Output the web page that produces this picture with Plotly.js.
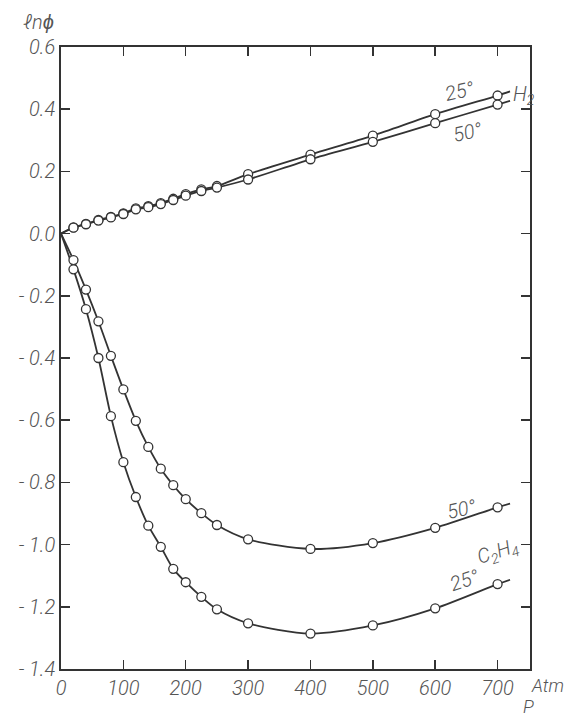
<!DOCTYPE html>
<html>
<head>
<meta charset="utf-8">
<script src="https://cdn.plot.ly/plotly-3.0.1.min.js"></script>
<style>html,body{margin:0;padding:0;background:#fff;}#chart{width:565px;height:719px;}</style>
</head>
<body>
<div id="chart"></div>
<script>
// ---- data ----
var pH2 = [20, 40, 60, 80, 100, 120, 140, 160, 180, 200, 225, 250, 300, 400, 500, 600, 700];
var h2_25 = [0.020, 0.031, 0.044, 0.054, 0.065, 0.081, 0.088, 0.098, 0.112, 0.127, 0.142, 0.153, 0.191, 0.254, 0.315, 0.384, 0.444];
var h2_50 = [0.019, 0.030, 0.042, 0.052, 0.063, 0.078, 0.085, 0.095, 0.108, 0.122, 0.137, 0.148, 0.174, 0.239, 0.295, 0.355, 0.415];

var pC2H4 = [20, 40, 60, 80, 100, 120, 140, 160, 180, 200, 225, 250, 300, 400, 500, 600, 700];
var c2h4_50 = [-0.085, -0.180, -0.282, -0.393, -0.501, -0.602, -0.686, -0.756, -0.809, -0.854, -0.899, -0.937, -0.983, -1.014, -0.995, -0.946, -0.880];
var c2h4_25 = [-0.115, -0.243, -0.400, -0.587, -0.735, -0.847, -0.939, -1.007, -1.078, -1.121, -1.168, -1.208, -1.253, -1.286, -1.260, -1.205, -1.127];

// curve start (origin) and drawn curve ends beyond the last measured point
var curveStartP = 0, curveStartY = 0;
var curveEndP = 720;
var h2_25_end = 0.457, h2_50_end = 0.427, c2h4_50_end = -0.868, c2h4_25_end = -1.113;

var xTickVals = [0, 100, 200, 300, 400, 500, 600, 700];
var xTickText = ['0', '100', '200', '300', '400', '500', '600', '700'];
var yTickVals = [0.6, 0.4, 0.2, 0.0, -0.2, -0.4, -0.6, -0.8, -1.0, -1.2, -1.4];
var yTickText = ['0.6', '0.4', '0.2', '0.0', '- 0.2', '- 0.4', '- 0.6', '- 0.8', '- 1.0', '- 1.2', '- 1.4'];

// ---- build traces ----
var ink = '#333333';
var textCol = '#555555';
var fontFam = 'Roboto, "Liberation Sans Narrow", sans-serif';

function curve(xs, ys, yEnd) {
  return {
    x: [curveStartP].concat(xs, [curveEndP]),
    y: [curveStartY].concat(ys, [yEnd]),
    mode: 'lines', type: 'scatter', hoverinfo: 'skip',
    line: {color: ink, width: 1.8, shape: 'spline', smoothing: 0.8}
  };
}
function pts(xs, ys) {
  return {
    x: xs, y: ys, mode: 'markers', type: 'scatter',
    marker: {symbol: 'circle', size: 9, color: '#ffffff', line: {color: ink, width: 1.3}}
  };
}

var data = [
  curve(pH2, h2_25, h2_25_end),
  curve(pH2, h2_50, h2_50_end),
  curve(pC2H4, c2h4_50, c2h4_50_end),
  curve(pC2H4, c2h4_25, c2h4_25_end),
  pts(pH2, h2_25), pts(pH2, h2_50),
  pts(pC2H4, c2h4_50), pts(pC2H4, c2h4_25)
];

var tickFont = {family: fontFam, size: 20, color: textCol, style: 'italic', weight: 300};
var annFont = {family: fontFam, size: 20, color: textCol, style: 'italic', weight: 300};
var unitFont = {family: fontFam, size: 18, color: textCol, style: 'italic', weight: 300};

function ann(o, f) { o.showarrow = false; o.font = f || annFont; o.xanchor = 'center'; o.yanchor = 'middle'; return o; }

var layout = {
  width: 565, height: 719,
  margin: {l: 61, r: 35, t: 47, b: 50},
  paper_bgcolor: '#ffffff', plot_bgcolor: '#ffffff',
  showlegend: false,
  xaxis: {
    range: [0, 752], showgrid: false, zeroline: false,
    showline: true, linecolor: ink, linewidth: 1.8, mirror: 'ticks',
    ticks: 'inside', ticklen: 9, tickwidth: 1.5, tickcolor: ink,
    tickvals: xTickVals, ticktext: xTickText, tickfont: tickFont
  },
  yaxis: {
    range: [-1.4, 0.6], showgrid: false, zeroline: false,
    showline: true, linecolor: ink, linewidth: 1.8, mirror: 'ticks',
    ticks: 'inside', ticklen: 9, tickwidth: 1.5, tickcolor: ink,
    tickvals: yTickVals, ticktext: yTickText, tickfont: tickFont
  },
  annotations: [
    ann({xref: 'paper', yref: 'paper', x: -0.047, y: 1.04, text: 'ℓnϕ'}),
    ann({xref: 'paper', yref: 'paper', x: 1.038, y: -0.027, text: 'Atm'}, unitFont),
    ann({xref: 'paper', yref: 'paper', x: 0.996, y: -0.061, text: 'P'}, unitFont),
    ann({x: 639, y: 0.457, text: '25°', textangle: -12}),
    ann({x: 742, y: 0.445, text: 'H<sub>2</sub>'}),
    ann({x: 652, y: 0.327, text: '50°', textangle: -12}),
    ann({x: 643, y: -0.885, text: '50°', textangle: -12}),
    ann({x: 700, y: -1.025, text: 'C<sub>2</sub>H<sub>4</sub>', textangle: -18}),
    ann({x: 648, y: -1.115, text: '25°', textangle: -18})
  ]
};

Plotly.newPlot('chart', data, layout, {staticPlot: true, displayModeBar: false});
</script>
</body>
</html>
